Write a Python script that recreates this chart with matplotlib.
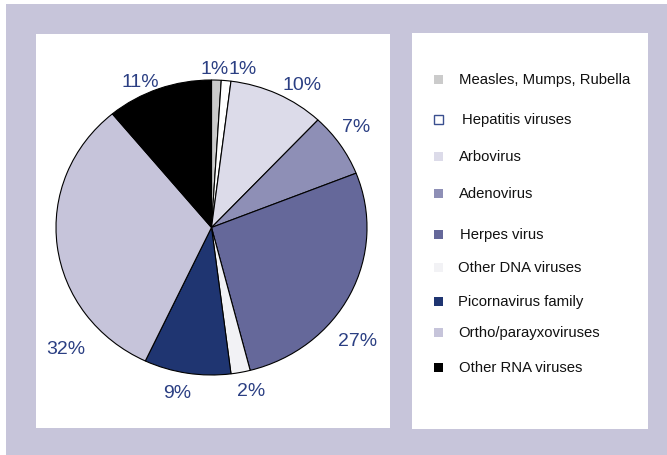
import matplotlib.pyplot as plt
from matplotlib.patches import Rectangle

plt.rcParams['font.family'] = ['Liberation Sans', 'DejaVu Sans']

categories = ["Measles, Mumps, Rubella", "Hepatitis viruses", "Arbovirus",
              "Adenovirus", "Herpes virus", "Other DNA viruses",
              "Picornavirus family", "Ortho/parayxoviruses", "Other RNA viruses"]
shares = [1, 1, 10, 7, 27, 2, 9, 32, 11]
colors = ["#cbcbcb", "#ffffff", "#dcdbe9", "#8e8fb6", "#65689a",
          "#f2f2f5", "#1f3571", "#c6c4da", "#000000"]

# label anchor points in pixels
label_px = [(215, 69), (243, 69), (302, 85), (356, 127), (358, 342),
            (251, 392), (177, 393), (66, 350), (140, 82)]
# legend row centres in pixels
legend_rows = [80, 120, 157, 194, 235, 268, 302, 333, 368]
legend_text_x = [459, 462, 459, 459, 460, 458, 458, 458, 459]

W, H = 667, 456
fig = plt.figure(figsize=(W / 100, H / 100), dpi=100)
fig.patch.set_facecolor("white")

bg = fig.add_axes([0, 0, 1, 1])
bg.set_xlim(0, W)
bg.set_ylim(H, 0)
bg.axis("off")
bg.add_patch(Rectangle((6, 5), W - 6, H - 5, facecolor="#c7c5da", edgecolor="none"))
bg.add_patch(Rectangle((36, 35), 354, 394, facecolor="white", edgecolor="none"))
bg.add_patch(Rectangle((412, 34), 236, 396, facecolor="white", edgecolor="none"))

# legend
for name, col, y, tx in zip(categories, colors, legend_rows, legend_text_x):
    edge = "#3a4f8f" if col == "#ffffff" else "none"
    bg.add_patch(Rectangle((434, y - 4.5), 9, 9, facecolor=col, edgecolor=edge, lw=1))
    bg.text(tx, y, name, fontsize=10.75, color="#111111", va="center", ha="left")

# pie, slightly wider than tall
cx, cy, rx, ry = 211.5, 228.5, 155.5, 147.5
ax = fig.add_axes([(cx - rx) / W, 1 - (cy + ry) / H, 2 * rx / W, 2 * ry / H])
ax.pie(shares, colors=colors, startangle=90, counterclock=False,
       wedgeprops=dict(edgecolor="black", linewidth=0.8))
ax.set_aspect("auto")
ax.set_xlim(-1, 1)
ax.set_ylim(-1, 1)
ax.set_clip_on(False)
for v, (px, py) in zip(shares, label_px):
    ax.text((px - cx) / rx, (cy - py) / ry, f"{v}%", fontsize=14,
            color="#2b3f83", ha="center", va="center", clip_on=False)

fig.savefig("out.png", dpi=100)
